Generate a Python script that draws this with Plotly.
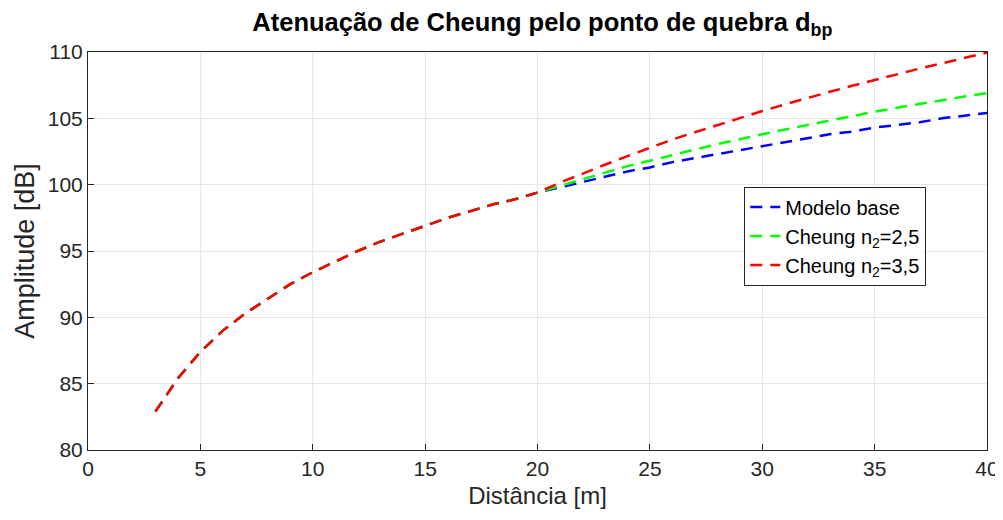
import plotly.graph_objects as go

# Data
distancia = [3, 4, 5, 6, 7, 8, 9, 10, 11, 12, 13, 14, 15, 16, 17, 18, 19, 20,
             21, 22, 23, 24, 25, 26, 27, 28, 29, 30, 31, 32, 33, 34, 35, 36, 37, 38, 39, 40]
comum = [82.9, 85.4, 87.4, 89.0, 90.3, 91.4, 92.5, 93.4, 94.2, 95.0, 95.7, 96.3,
         96.9, 97.5, 98.0, 98.5, 98.9, 99.4]
modelo_base = comum + [99.8, 100.2, 100.6, 101.0, 101.3, 101.7, 102.0, 102.3, 102.6, 102.9,
                       103.2, 103.5, 103.8, 104.0, 104.3, 104.5, 104.7, 105.0, 105.2, 105.4]
cheung_25 = comum + [99.9, 100.4, 100.9, 101.4, 101.8, 102.25, 102.65, 103.05, 103.45, 103.8,
                     104.15, 104.5, 104.85, 105.15, 105.5, 105.8, 106.1, 106.35, 106.65, 106.9]
cheung_35 = comum + [100.15, 100.85, 101.5, 102.15, 102.8, 103.4, 103.95, 104.5, 105.05, 105.55,
                     106.05, 106.55, 107.0, 107.45, 107.9, 108.35, 108.75, 109.15, 109.55, 109.95]

x_ticks = [0, 5, 10, 15, 20, 25, 30, 35, 40]
y_ticks = [80, 85, 90, 95, 100, 105, 110]

FONT = "Liberation Sans, Arial, sans-serif"
dash = "12px,8px"

fig = go.Figure()
fig.add_trace(go.Scatter(x=distancia, y=modelo_base, mode="lines", name="Modelo base",
                         line=dict(color="#0000FF", width=2.5, dash=dash)))
fig.add_trace(go.Scatter(x=distancia, y=cheung_25, mode="lines", name="Cheung n<sub>2</sub>=2,5",
                         line=dict(color="#00FF00", width=2.5, dash=dash)))
fig.add_trace(go.Scatter(x=distancia, y=cheung_35, mode="lines", name="Cheung n<sub>2</sub>=3,5",
                         line=dict(color="#FF0000", width=2.5, dash=dash)))

axis_common = dict(showline=True, linecolor="#262626", linewidth=1, mirror=True,
                   ticks="inside", ticklen=6, tickcolor="#262626",
                   showgrid=True, gridcolor="#E6E6E6", gridwidth=1, zeroline=False,
                   automargin=False,
                   tickfont=dict(family=FONT, size=21, color="#262626"))

fig.update_layout(
    width=995, height=512,
    paper_bgcolor="white", plot_bgcolor="white",
    margin=dict(l=80, r=16, t=44, b=70),
    title=dict(text="<b>Atenuação de Cheung pelo ponto de quebra d<sub>bp</sub></b>",
               x=0.537, xanchor="center", y=0.99, yanchor="top",
               font=dict(family=FONT, size=25.5, color="black")),
    xaxis=dict(range=[0, 40], tickvals=x_ticks,
               title=dict(text="Distância [m]", standoff=7,
                          font=dict(family=FONT, size=24, color="#262626")),
               **axis_common),
    yaxis=dict(range=[80, 110], tickvals=y_ticks,
               title=dict(text="Amplitude [dB]", standoff=5,
                          font=dict(family=FONT, size=27, color="#262626")),
               **axis_common),
    legend=dict(x=0.73, y=0.662, xanchor="left", yanchor="top",
                bgcolor="white", bordercolor="#262626", borderwidth=1,
                font=dict(family=FONT, size=20, color="black"),
                tracegroupgap=2, itemwidth=30),
    showlegend=True,
)

fig.write_html("out.html")
